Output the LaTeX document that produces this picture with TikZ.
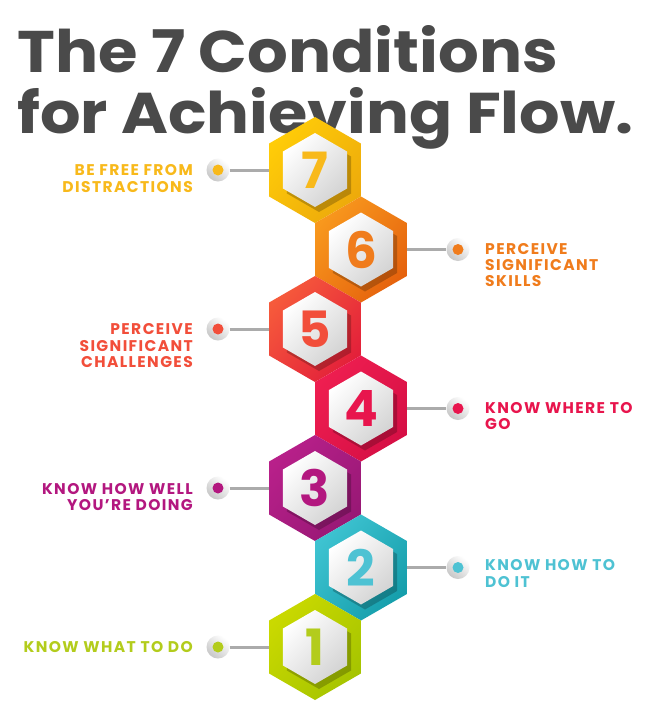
\documentclass[tikz,border=0pt]{standalone}
\usepackage{fontspec}
\newfontfamily\pops{Poppins}
\usetikzlibrary{shapes.geometric}
\definecolor{titlegray}{HTML}{4A4A4A}
\definecolor{conngray}{HTML}{ABABAB}
\definecolor{ca7}{HTML}{FFCC08}\definecolor{cb7}{HTML}{EDAA0B}\definecolor{t7}{HTML}{F8B91B}
\definecolor{ca6}{HTML}{F8981D}\definecolor{cb6}{HTML}{E5620D}\definecolor{t6}{HTML}{F07C1C}
\definecolor{ca5}{HTML}{F65A3B}\definecolor{cb5}{HTML}{E3203A}\definecolor{t5}{HTML}{F24E3A}
\definecolor{ca4}{HTML}{EE1E50}\definecolor{cb4}{HTML}{D60F45}\definecolor{t4}{HTML}{E8154D}
\definecolor{ca3}{HTML}{B8208A}\definecolor{cb3}{HTML}{981875}\definecolor{t3}{HTML}{B3177F}
\definecolor{ca2}{HTML}{3EC3D1}\definecolor{cb2}{HTML}{159EAB}\definecolor{t2}{HTML}{4EC2D3}
\definecolor{ca1}{HTML}{CAD900}\definecolor{cb1}{HTML}{A6C400}\definecolor{t1}{HTML}{B3CC1C}
\tikzset{
  hexout/.style={regular polygon, regular polygon sides=6, shape border rotate=30,
    minimum size=106pt, inner sep=0pt, draw=none},
  hexin/.style={regular polygon, regular polygon sides=6, shape border rotate=30,
    minimum size=74pt, inner sep=0pt, draw=none},
  hexshadow/.style={hexin, fill=black, fill opacity=0.22},
  digit/.style={inner sep=0pt, font=\pops\bfseries\fontsize{50}{50}\selectfont},
  dotring/.style={circle, minimum size=23pt, inner sep=0pt, draw=none,
    top color=white, bottom color=black!22, shading angle=-40},
  dotcore/.style={circle, minimum size=11pt, inner sep=0pt, draw=none},
  conn/.style={draw=conngray, line width=3pt},
  lbl/.style={inner sep=0pt, font=\pops\bfseries\fontsize{15.5}{16.3}\selectfont\addfontfeature{LetterSpace=9}},
  lblL/.style={lbl, anchor=north east, align=right},
  lblR/.style={lbl, anchor=north west, align=left},
  titletext/.style={inner sep=0pt, anchor=base west, text=titlegray}
}
\newcommand\flowhex[3]{%
  \node[hexout, top color=ca#1, bottom color=cb#1, shading angle=50] (h#1) at (#2,#3) {};
  \node[hexshadow] at (#2+4,#3+5) {};
  \node[hexin, top color=white, bottom color=black!17, shading angle=45] (i#1) at (#2,#3) {};
  \node[digit, text=t#1] (n#1) at (#2,#3) {#1};
}
\begin{document}
\begin{tikzpicture}[x=1pt,y=-1pt]
\useasboundingbox[fill=white] (0,0) rectangle (652,726);
% title
\node[titletext] (title1) at (17,72) {\resizebox{541pt}{47pt}{\pops\bfseries The 7 Conditions}};
\node[titletext] (title2) at (17,133) {\resizebox{616pt}{46pt}{\pops\bfseries for Achieving Flow.}};
% dots
\node[dotring] (d7) at (218,170) {};   \node[dotcore, fill=t7] at (d7) {};
\node[dotring] (d6) at (458,249.5) {}; \node[dotcore, fill=t6] at (d6) {};
\node[dotring] (d5) at (218,329) {};   \node[dotcore, fill=t5] at (d5) {};
\node[dotring] (d4) at (458,408.5) {}; \node[dotcore, fill=t4] at (d4) {};
\node[dotring] (d3) at (218,488) {};   \node[dotcore, fill=t3] at (d3) {};
\node[dotring] (d2) at (458,567.5) {}; \node[dotcore, fill=t2] at (d2) {};
\node[dotring] (d1) at (218,647) {};   \node[dotcore, fill=t1] at (d1) {};
% hexagons
\flowhex{7}{315}{170}
\flowhex{6}{361}{249.5}
\flowhex{5}{315}{329}
\flowhex{4}{361}{408.5}
\flowhex{3}{315}{488}
\flowhex{2}{361}{567.5}
\flowhex{1}{315}{647}
% connectors
\draw[conn] (d7.east) -- (h7.west);
\draw[conn] (h6.east) -- (d6.west);
\draw[conn] (d5.east) -- (h5.west);
\draw[conn] (h4.east) -- (d4.west);
\draw[conn] (d3.east) -- (h3.west);
\draw[conn] (h2.east) -- (d2.west);
\draw[conn] (d1.east) -- (h1.west);
% labels
\node[lblL, text=t7] (l7) at (193,164.5) {BE FREE FROM\\DISTRACTIONS};
\node[lblR, text=t6] (l6) at (485,243) {PERCEIVE\\SIGNIFICANT\\SKILLS};
\node[lblL, text=t5] (l5) at (193,323.5) {PERCEIVE\\SIGNIFICANT\\CHALLENGES};
\node[lblR, text=t4] (l4) at (485,402) {KNOW WHERE TO\\GO};
\node[lblL, text=t3] (l3) at (193,483) {KNOW HOW WELL\\YOU’RE DOING};
\node[lblR, text=t2] (l2) at (485,559.5) {KNOW HOW TO\\DO IT};
\node[lblL, text=t1] (l1) at (193,641.5) {KNOW WHAT TO DO};
\end{tikzpicture}
\end{document}
